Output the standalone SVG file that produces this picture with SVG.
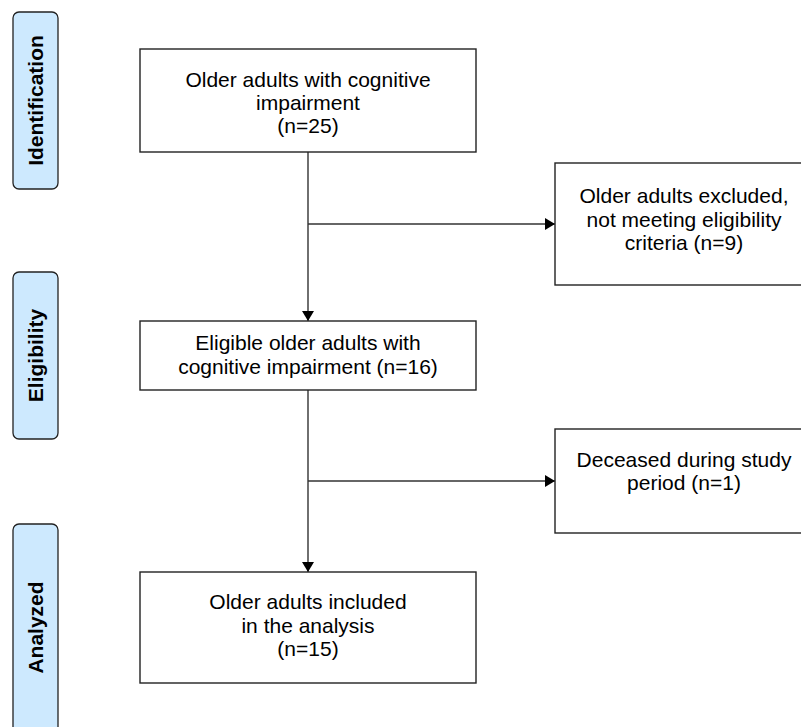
<svg xmlns="http://www.w3.org/2000/svg" width="801" height="727" viewBox="0 0 801 727">
<style>
.box{fill:#ffffff;stroke:#222222;stroke-width:1.4}
.lab{fill:#cde9fe;stroke:#222222;stroke-width:1.3}
.t{font-family:"Liberation Sans",Arial,sans-serif;font-size:21px;fill:#000000;text-anchor:middle}
.lt{font-family:"Liberation Sans",Arial,sans-serif;font-size:21px;font-weight:bold;fill:#000000;text-anchor:middle}
.ln{fill:none;stroke:#333333;stroke-width:1.4}
</style>
<defs>
<marker id="ah" viewBox="0 0 10 12" refX="10" refY="6" markerWidth="10" markerHeight="12" markerUnits="userSpaceOnUse" orient="auto">
<path d="M0,0 L10,6 L0,12 Z" fill="#000000"/>
</marker>
</defs>
<rect width="801" height="727" fill="#ffffff"/>
<g id="label-identification">
<rect class="lab" x="13" y="12" width="45" height="177" rx="6"/>
<text class="lt" transform="translate(43,100.5) rotate(-90)">Identification</text>
</g>
<g id="label-eligibility">
<rect class="lab" x="13" y="272" width="45" height="167" rx="6"/>
<text class="lt" transform="translate(43,355.5) rotate(-90)">Eligibility</text>
</g>
<g id="label-analyzed">
<rect class="lab" x="13" y="524" width="45" height="215" rx="6"/>
<text class="lt" transform="translate(43,627.5) rotate(-90)">Analyzed</text>
</g>
<g id="connectors">
<line class="ln" x1="308" y1="152" x2="308" y2="321" marker-end="url(#ah)"/>
<line class="ln" x1="308" y1="224" x2="555" y2="224" marker-end="url(#ah)"/>
<line class="ln" x1="308" y1="390" x2="308" y2="572" marker-end="url(#ah)"/>
<line class="ln" x1="308" y1="481" x2="555" y2="481" marker-end="url(#ah)"/>
</g>
<g id="node-identified">
<rect class="box" x="140" y="49" width="336" height="103"/>
<text class="t" x="308" y="87">Older adults with cognitive</text>
<text class="t" x="308" y="110">impairment</text>
<text class="t" x="308" y="133">(n=25)</text>
</g>
<g id="node-excluded">
<rect class="box" x="555" y="163" width="258" height="122"/>
<text class="t" x="684" y="203">Older adults excluded,</text>
<text class="t" x="684" y="227">not meeting eligibility</text>
<text class="t" x="684" y="250">criteria (n=9)</text>
</g>
<g id="node-eligible">
<rect class="box" x="140" y="321" width="336" height="69"/>
<text class="t" x="308" y="349.5">Eligible older adults with</text>
<text class="t" x="308" y="374">cognitive impairment (n=16)</text>
</g>
<g id="node-deceased">
<rect class="box" x="555" y="429" width="258" height="104"/>
<text class="t" x="684" y="467">Deceased during study</text>
<text class="t" x="684" y="490">period (n=1)</text>
</g>
<g id="node-analyzed">
<rect class="box" x="140" y="572" width="336" height="111"/>
<text class="t" x="308" y="608.5">Older adults included</text>
<text class="t" x="308" y="633">in the analysis</text>
<text class="t" x="308" y="656">(n=15)</text>
</g>
</svg>
